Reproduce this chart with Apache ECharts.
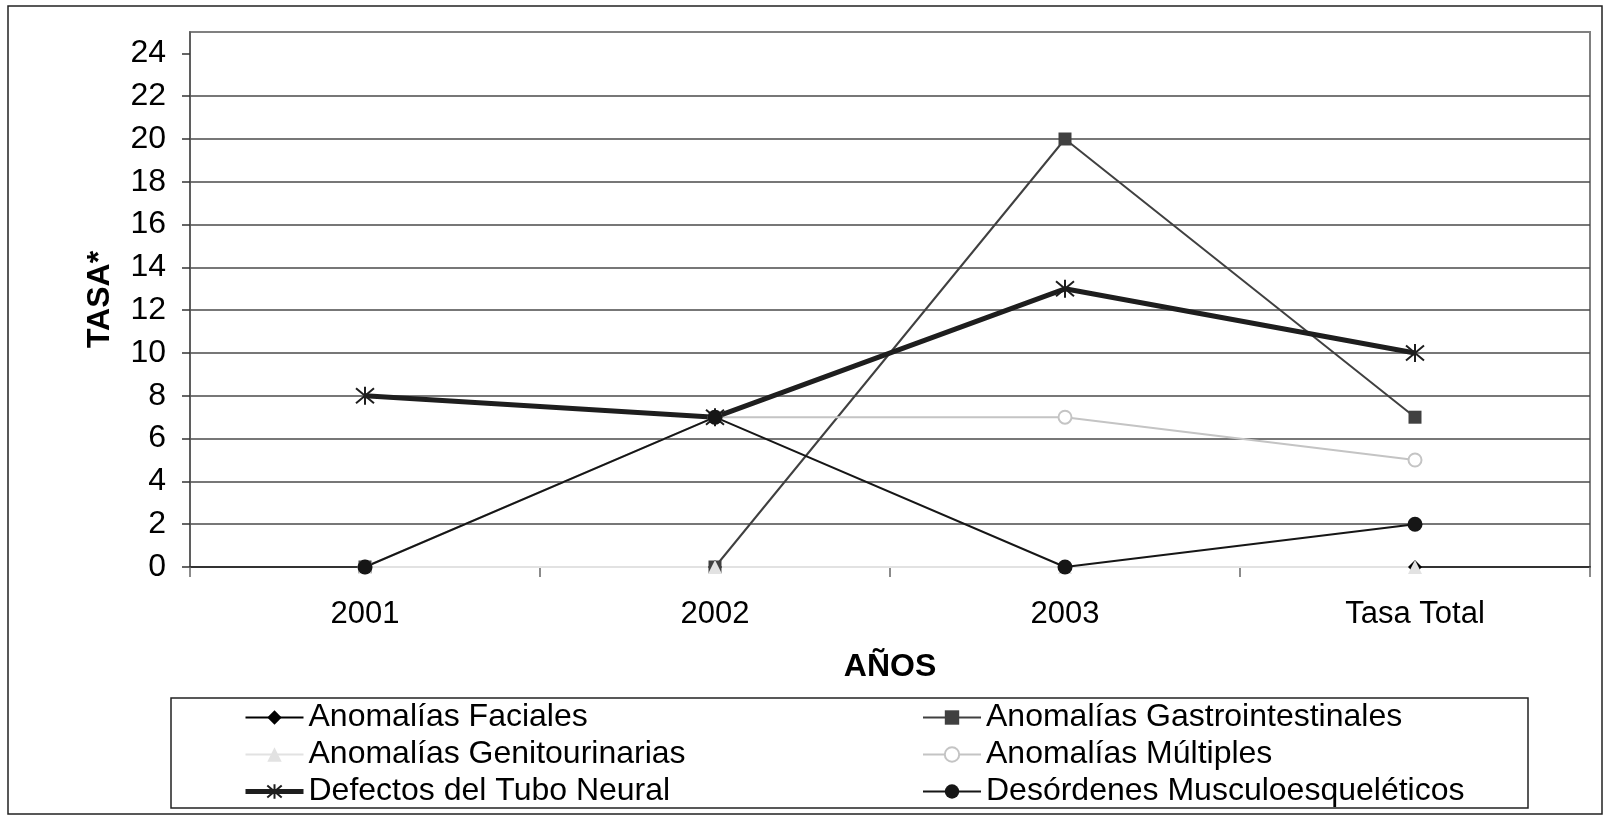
<!DOCTYPE html>
<html>
<head>
<meta charset="utf-8">
<script src="https://cdn.jsdelivr.net/npm/echarts@6/dist/echarts.min.js"></script>
<style>
  html, body { margin: 0; padding: 0; background: #fff; }
  #chart { width: 1606px; height: 817px; }
</style>
</head>
<body>
<div id="chart"></div>
<script>
// Categories and tick labels
const years = ['2001', '2002', '2003', 'Tasa Total'];
const yTicks = [0, 2, 4, 6, 8, 10, 12, 14, 16, 18, 20, 22, 24];

// Series values (TASA*)
const faciales = [0, 0, 0, 0];
const gastrointestinales = [0, 0, 20, 7];
const genitourinarias = [0, 0, 0, 0];
const multiples = [0, 7, 7, 5];
const tuboNeural = [8, 7, 13, 10];
const musculoesqueleticos = [0, 7, 0, 2];

const FONT = '"Liberation Sans", Arial, sans-serif';

// Excel-style asterisk marker: an X crossed by a vertical stroke
const asterisk = 'path://M0,0 L20,20 M20,0 L0,20 M10,-2 L10,22';

const chart = echarts.init(document.getElementById('chart'), null, { renderer: 'canvas' });

function lineSeries(name, data, color, width, symbol, size, itemStyle) {
  return {
    name: name,
    type: 'line',
    data: data,
    symbol: symbol,
    symbolSize: size,
    showSymbol: true,
    lineStyle: { color: color, width: width },
    itemStyle: itemStyle || { color: color },
    emphasis: { disabled: true },
    animation: false
  };
}

const legendCommon = {
  orient: 'vertical',
  padding: 0,
  itemGap: 0,
  itemWidth: 58,
  itemHeight: 18,
  selectedMode: false,
  textStyle: { fontFamily: FONT, fontSize: 32, color: '#000', lineHeight: 37 }
};

chart.setOption({
  backgroundColor: '#fff',
  animation: false,
  textStyle: { fontFamily: FONT },
  grid: {
    left: 190, right: 16, top: 32, bottom: 250,
    show: true,
    borderColor: '#808080',
    borderWidth: 2,
    backgroundColor: '#fff',
    outerBoundsMode: 'none'
  },
  legend: [
    Object.assign({}, legendCommon, {
      left: 243, top: 699,
      data: [
        'Anomalías Faciales',
        'Anomalías Genitourinarias',
        { name: 'Defectos del Tubo Neural', lineStyle: { width: 5, color: '#1e1e1e' } }
      ]
    }),
    Object.assign({}, legendCommon, {
      left: 922, top: 699,
      data: ['Anomalías Gastrointestinales', 'Anomalías Múltiples', 'Desórdenes Musculoesqueléticos']
    })
  ],
  xAxis: {
    type: 'category',
    data: years,
    boundaryGap: true,
    name: 'AÑOS',
    nameLocation: 'middle',
    nameGap: 84,
    nameTextStyle: { fontFamily: FONT, fontSize: 32, fontWeight: 'bold', color: '#000' },
    axisLine: { show: true, lineStyle: { color: '#333', width: 2 } },
    axisTick: { show: true, length: 10, lineStyle: { color: '#666', width: 1.5 } },
    axisLabel: { fontFamily: FONT, fontSize: 31, color: '#000', margin: 32 },
    splitLine: { show: false }
  },
  yAxis: {
    type: 'value',
    min: 0,
    max: 25,
    interval: 2,
    name: 'TASA*',
    nameLocation: 'middle',
    nameGap: 74,
    nameTextStyle: { fontFamily: FONT, fontSize: 32, fontWeight: 'bold', color: '#000' },
    axisLine: { show: true, lineStyle: { color: '#555', width: 1.5 } },
    axisTick: { show: true, length: 8, lineStyle: { color: '#333', width: 1.5 }, customValues: yTicks },
    axisLabel: { fontFamily: FONT, fontSize: 32, color: '#000', margin: 24, customValues: yTicks },
    splitLine: { show: true, showMaxLine: false, lineStyle: { color: '#4a4a4a', width: 1.5 } }
  },
  graphic: [
    {
      type: 'rect', silent: true, z: -10,
      shape: { x: 8, y: 6, width: 1594, height: 808 },
      style: { fill: 'none', stroke: '#222', lineWidth: 1.5 }
    },
    {
      type: 'rect', silent: true, z: -5,
      shape: { x: 171, y: 698, width: 1357, height: 110 },
      style: { fill: '#fff', stroke: '#222', lineWidth: 1.5 }
    }
  ],
  series: [
    lineSeries('Anomalías Faciales', faciales, '#000', 2, 'diamond', 14),
    lineSeries('Anomalías Gastrointestinales', gastrointestinales, '#404040', 2, 'rect', 13),
    lineSeries('Anomalías Genitourinarias', genitourinarias, '#e2e2e2', 2, 'triangle', 14),
    lineSeries('Anomalías Múltiples', multiples, '#c4c4c4', 2, 'emptyCircle', 13,
      { color: '#c4c4c4', borderColor: '#c4c4c4', borderWidth: 2 }),
    lineSeries('Defectos del Tubo Neural', tuboNeural, '#1e1e1e', 5, asterisk, 18,
      { color: 'none', borderColor: '#1e1e1e', borderWidth: 2 }),
    lineSeries('Desórdenes Musculoesqueléticos', musculoesqueleticos, '#161616', 2, 'circle', 15)
  ]
});
</script>
</body>
</html>
